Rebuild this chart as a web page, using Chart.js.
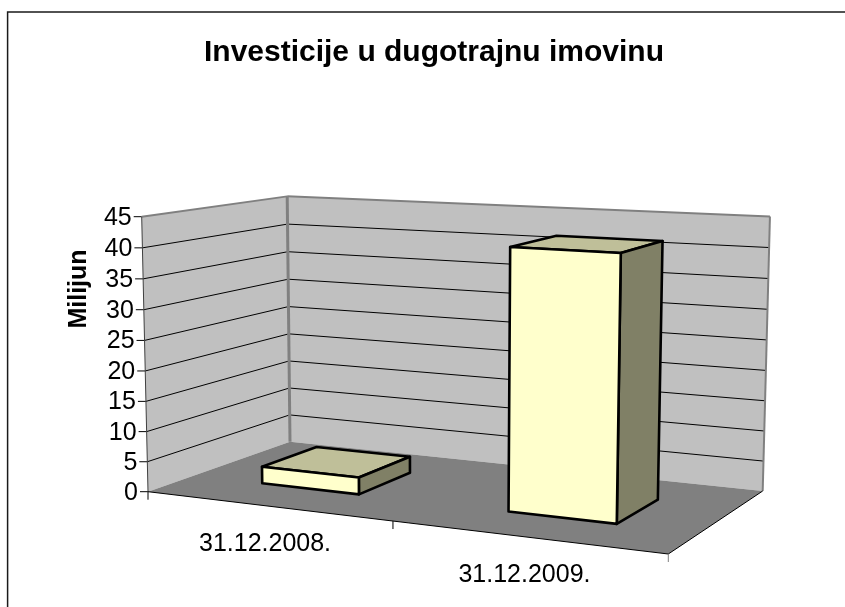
<!DOCTYPE html>
<html>
<head>
<meta charset="utf-8">
<style>
  html, body { margin: 0; padding: 0; background: #fff; }
  #wrap { position: relative; width: 845px; height: 607px; }
</style>
<script src="https://cdn.jsdelivr.net/npm/chart.js@4/dist/chart.umd.min.js"></script>
</head>
<body>
<div id="wrap"><canvas id="graph"></canvas></div>
<script>
const categories = ["31.12.2008.", "31.12.2009."];
const values = [2.8, 41.8];
const titleText = "Investicije u dugotrajnu imovinu";
const axisTitle = "Milijun";

const FONT = "'Liberation Sans', Arial, sans-serif";

// box corners on screen: floor front-left, front-right, back-right, back-left, then wall tops
const floorPts = [[148, 491.7], [668.3, 554], [762.7, 491], [290, 441.7]];
const topFL = [141.7, 216.7];
const topBL = [287.2, 197.7];

// projective map (u along x, v into depth, w up) fitted on those corners
function makeProjection() {
  const [p0, p1, p2, p3] = floorPts;
  const dx1 = p1[0] - p2[0], dx2 = p3[0] - p2[0], sx = p0[0] - p1[0] + p2[0] - p3[0];
  const dy1 = p1[1] - p2[1], dy2 = p3[1] - p2[1], sy = p0[1] - p1[1] + p2[1] - p3[1];
  const den = dx1 * dy2 - dx2 * dy1;
  const g = (sx * dy2 - dx2 * sy) / den;
  const h = (dx1 * sy - sx * dy1) / den;
  const a = p1[0] - p0[0] + g * p1[0], b = p3[0] - p0[0] + h * p3[0];
  const d = p1[1] - p0[1] + g * p1[1], e = p3[1] - p0[1] + h * p3[1];
  const k1 = (b - topBL[0] * h) / (topBL[0] - topFL[0]);
  const c = topFL[0] * k1 - p0[0];
  const f = topFL[1] * k1 - p0[1];
  return (u, v, w) => {
    const W = 1 + g * u + h * v + (k1 - 1) * w;
    // the 3*u*v*w term pulls the far top corner up to where the reference has it
    return [(a * u + b * v + c * w + p0[0]) / W, (d * u + e * v + f * w + p0[1]) / W - 3 * u * v * w];
  };
}
const project = makeProjection();

function poly(ctx, pts, fill, stroke, lw) {
  ctx.beginPath();
  pts.forEach((p, i) => i ? ctx.lineTo(p[0], p[1]) : ctx.moveTo(p[0], p[1]));
  ctx.closePath();
  if (fill) { ctx.fillStyle = fill; ctx.fill(); }
  if (stroke) { ctx.strokeStyle = stroke; ctx.lineWidth = lw; ctx.lineJoin = "round"; ctx.stroke(); }
}

function line(ctx, p, q, color, lw) {
  ctx.beginPath();
  ctx.moveTo(p[0], p[1]);
  ctx.lineTo(q[0], q[1]);
  ctx.strokeStyle = color;
  ctx.lineWidth = lw;
  ctx.stroke();
}

const box3d = {
  id: "box3d",
  beforeDraw(chart) {
    const ctx = chart.ctx;
    ctx.save();
    ctx.fillStyle = "#fff";
    ctx.fillRect(0, 0, chart.width, chart.height);
    // outer frame
    ctx.strokeStyle = "#1a1a1a";
    ctx.lineWidth = 1.5;
    ctx.beginPath();
    ctx.moveTo(7.6, chart.height);
    ctx.lineTo(7.6, 12);
    ctx.lineTo(chart.width, 12);
    ctx.stroke();
    ctx.restore();
  },
  beforeDatasetsDraw(chart) {
    const ctx = chart.ctx, yScale = chart.scales.y, xScale = chart.scales.x;
    ctx.save();
    // walls and floor
    poly(ctx, [project(0, 0, 0), project(0, 1, 0), project(0, 1, 1), project(0, 0, 1)], "#c0c0c0");
    poly(ctx, [project(0, 1, 0), project(1, 1, 0), project(1, 1, 1), project(0, 1, 1)], "#c0c0c0");
    poly(ctx, [project(0, 0, 0), project(1, 0, 0), project(1, 1, 0), project(0, 1, 0)], "#808080");

    // grid lines and y axis labels come from the y scale
    ctx.font = "25px " + FONT;
    ctx.textAlign = "right";
    ctx.textBaseline = "middle";
    yScale.ticks.forEach((t) => {
      const w = (yScale.bottom - yScale.getPixelForValue(t.value)) / (yScale.bottom - yScale.top);
      const left = project(0, 0, w);
      if (t.value > yScale.min && t.value < yScale.max) {
        line(ctx, left, project(0, 1, w), "#000", 1);
        line(ctx, project(0, 1, w), project(1, 1, w), "#000", 1);
      }
      line(ctx, [left[0] - 8, left[1]], left, "#000", 1);
      ctx.fillStyle = "#000";
      ctx.fillText(String(t.value), left[0] - 10, left[1] + 1);
    });

    // wall edges
    line(ctx, project(0, 0, 1), project(0, 1, 1), "#808080", 2);
    line(ctx, project(0, 1, 1), project(1, 1, 1), "#808080", 2);
    line(ctx, project(0, 1, 0), project(0, 1, 1), "#808080", 3);
    line(ctx, project(1, 1, 0), project(1, 1, 1), "#808080", 2);
    line(ctx, project(0, 0, 0), project(0, 0, 1), "#404040", 1);

    // floor front and right edges plus category ticks
    line(ctx, project(0, 0, 0), project(1, 0, 0), "#000", 1);
    line(ctx, project(1, 0, 0), project(1, 1, 0), "#000", 1);
    [0, 0.5, 1].forEach((u) => {
      const p = project(u, 0, 0);
      line(ctx, p, [p[0], p[1] + 8], u === 1 ? "#808080" : "#000", 1);
    });

    // category labels
    ctx.font = "25px " + FONT;
    ctx.textAlign = "center";
    ctx.textBaseline = "middle";
    ctx.fillStyle = "#000";
    categories.forEach((c, i) => {
      const u = (xScale.getPixelForValue(i) - xScale.left) / (xScale.right - xScale.left);
      const p = project(u, 0, 0);
      ctx.fillText(c, p[0] - 2, p[1] + 38);
    });

    // rotated axis title
    ctx.translate(79, 289);
    ctx.rotate(-Math.PI / 2);
    ctx.font = "bold 25px " + FONT;
    ctx.fillText(axisTitle, 0, 0);
    ctx.restore();
  },
  beforeDatasetDraw(chart, args) {
    const ctx = chart.ctx, xScale = chart.scales.x, yScale = chart.scales.y;
    const meta = chart.getDatasetMeta(args.index);
    const depth = [0.3, 0.7];
    ctx.save();
    meta.data.forEach((bar) => {
      const { x, y, base, width } = bar.getProps(["x", "y", "base", "width"], true);
      const xw = xScale.right - xScale.left;
      const u0 = (x - width / 2 - xScale.left) / xw;
      const u1 = (x + width / 2 - xScale.left) / xw;
      const yh = yScale.bottom - yScale.top;
      const w0 = (yScale.bottom - base) / yh;
      const w1 = (yScale.bottom - y) / yh;
      const [v0, v1] = depth;
      poly(ctx, [project(u0, v0, w1), project(u1, v0, w1), project(u1, v1, w1), project(u0, v1, w1)], "#bfbf99", "#000", 2.6);
      poly(ctx, [project(u1, v0, w0), project(u1, v1, w0), project(u1, v1, w1), project(u1, v0, w1)], "#808066", "#000", 2.6);
      poly(ctx, [project(u0, v0, w0), project(u1, v0, w0), project(u1, v0, w1), project(u0, v0, w1)], "#ffffcc", "#000", 2.6);
    });
    ctx.restore();
    return false;
  }
};

new Chart(document.getElementById("graph"), {
  type: "bar",
  data: {
    labels: categories,
    datasets: [{ data: values, barPercentage: 0.406, categoryPercentage: 1, backgroundColor: "#ffffcc" }]
  },
  options: {
    responsive: true,
    maintainAspectRatio: false,
    animation: false,
    layout: { padding: { left: 148, right: 125, top: 10, bottom: 115 } },
    scales: {
      x: { display: false, grid: { display: false } },
      y: { display: false, min: 0, max: 45, ticks: { stepSize: 5 } }
    },
    plugins: {
      legend: { display: false },
      tooltip: { enabled: false },
      title: {
        display: true,
        text: titleText,
        color: "#000",
        font: { family: FONT, size: 30, weight: "bold", lineHeight: 1.2 },
        padding: { top: 25, bottom: 146 }
      }
    }
  },
  plugins: [box3d]
});
</script>
</body>
</html>
